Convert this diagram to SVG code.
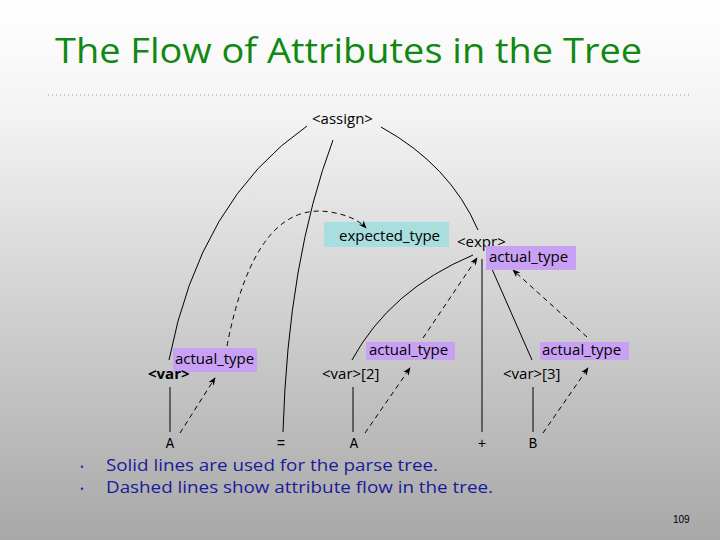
<svg xmlns="http://www.w3.org/2000/svg" width="720" height="540" viewBox="0 0 720 540">
<defs>
<linearGradient id="bg" x1="0" y1="0" x2="0" y2="1">
<stop offset="0" stop-color="#ffffff"/><stop offset="0.2" stop-color="#f4f4f4"/><stop offset="1" stop-color="#a8a8a8"/>
</linearGradient>
<marker id="ah" viewBox="0 0 10 10" refX="9" refY="5" markerWidth="8" markerHeight="8" markerUnits="userSpaceOnUse" orient="auto"><path d="M0,1 L10,5 L0,9 L3,5 Z" fill="#000"/></marker>
<style>
.s{fill:none;stroke:#000;stroke-width:1}
.d{fill:none;stroke:#000;stroke-width:1;stroke-dasharray:5,4;marker-end:url(#ah)}
.t{font-family:"Open Sans","DejaVu Sans",sans-serif;font-size:15px;fill:#000}
.m{font-family:"Liberation Mono",monospace;font-size:14px;fill:#000;text-anchor:middle}
.at{fill:#c8a0f4}
</style>
</defs>
<rect width="720" height="540" fill="url(#bg)"/>
<text x="55" y="63" font-family="Open Sans, DejaVu Sans, sans-serif" font-size="35" fill="#118811" textLength="587" lengthAdjust="spacingAndGlyphs">The Flow of Attributes in the Tree</text>
<line x1="48" y1="95" x2="692" y2="95" stroke="#999" stroke-width="1" stroke-dasharray="1,3"/>
<g id="expected"><rect x="324" y="222" width="125" height="25" fill="#a8dede"/><text class="t" x="339" y="241">expected_type</text></g>
<g id="connectors">
<path class="s" d="M307,126 Q200,200 169,360"/>
<path class="s" d="M333,140 Q288,260 283,432"/>
<path class="s" d="M381,127 Q450,165 478,230"/>
<path class="s" d="M473,255 Q390,290 352,360"/>
<line class="s" x1="482" y1="259" x2="482" y2="432"/>
<path class="s" d="M488,260 L532,360"/>
<line class="s" x1="170" y1="387" x2="170" y2="432"/>
<line class="s" x1="353" y1="387" x2="353" y2="432"/>
<line class="s" x1="533" y1="387" x2="533" y2="432"/>
<path class="d" d="M227,346 Q255,200 330,212 Q355,216 366,228"/>
<path class="d" d="M423,338 L477,258"/>
<path class="d" d="M587,337 L513,270"/>
<path class="d" d="M180,433 L215,378"/>
<path class="d" d="M365,433 L410,368"/>
<path class="d" d="M543,433 L588,368"/>
</g>
<g id="assign"><text class="t" x="312" y="124">&lt;assign&gt;</text></g>
<g id="expr"><text class="t" x="457" y="247">&lt;expr&gt;</text><rect class="at" x="486" y="246" width="90" height="24"/><text class="t" x="489" y="262">actual_type</text></g>
<g id="var"><rect class="at" x="173" y="348" width="84" height="24"/><text class="t" x="175" y="364">actual_type</text><text class="t" x="148" y="379" font-weight="bold">&lt;var&gt;</text></g>
<g id="var2"><rect class="at" x="366" y="342" width="89" height="18"/><text class="t" x="369" y="355">actual_type</text><text class="t" x="322" y="379" font-size="13">&lt;var&gt;[2]</text></g>
<g id="var3"><rect class="at" x="540" y="342" width="89" height="18"/><text class="t" x="542" y="355">actual_type</text><text class="t" x="503" y="379" font-size="13">&lt;var&gt;[3]</text></g>
<g id="leaves">
<text class="m" x="170" y="448">A</text><text class="m" x="281" y="448">=</text><text class="m" x="354" y="448">A</text><text class="m" x="482" y="448">+</text><text class="m" x="533" y="448">B</text>
</g>
<g font-family="Open Sans, DejaVu Sans, sans-serif" font-size="17" fill="#1a1a9a">
<text x="80" y="471" font-size="10">•</text><text x="106" y="471" textLength="332" lengthAdjust="spacingAndGlyphs">Solid lines are used for the parse tree.</text>
<text x="80" y="493" font-size="10">•</text><text x="106" y="493" textLength="387" lengthAdjust="spacingAndGlyphs">Dashed lines show attribute flow in the tree.</text>
</g>
<text x="673" y="523" font-family="Liberation Sans, sans-serif" font-size="10" fill="#000">109</text>
</svg>
